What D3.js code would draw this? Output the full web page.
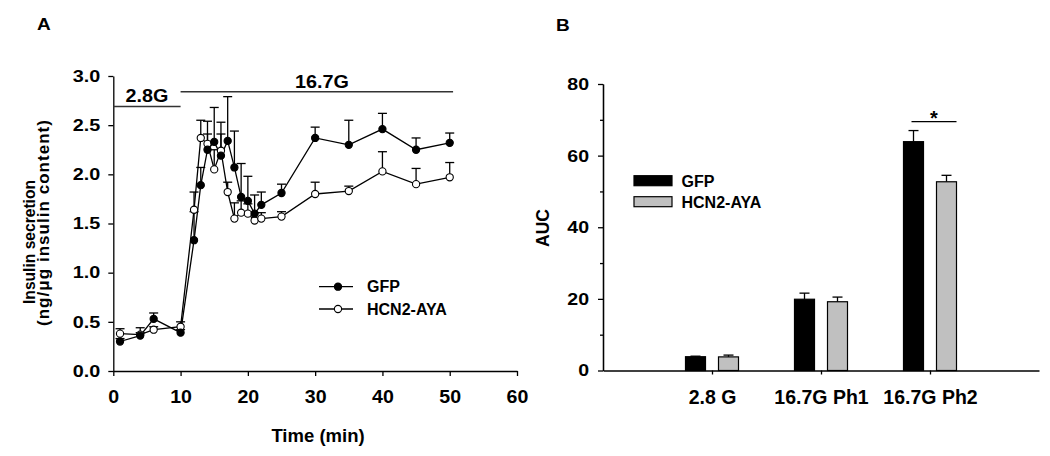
<!DOCTYPE html>
<html><head><meta charset="utf-8">
<script src="https://cdn.jsdelivr.net/npm/d3@7"></script>
<style>
body{margin:0;background:#fff;}
svg{display:block;}
text{font-family:Arial,"Liberation Sans",sans-serif;font-weight:bold;fill:#000;}
</style></head><body>
<svg id="chart" width="1050" height="456"></svg>
<script>
// ---------- Panel A data ----------
const timeMin   = [1, 4, 6, 10, 12, 13, 14, 15, 16, 17, 18, 19, 20, 21, 22, 25, 30, 35, 40, 45, 50];
const gfpMean   = [0.30,0.36,0.53,0.39,1.33,1.89,2.25,2.33,2.19,2.34,2.07,1.77,1.73,1.60,1.69,1.81,2.37,2.30,2.46,2.25,2.32];
const gfpSem    = [0.03,0.03,0.06,0.03,0.29,0.18,0.16,0.35,0.34,0.45,0.37,0.34,0.25,0.19,0.13,0.09,0.11,0.25,0.16,0.12,0.10];
const ayaMean   = [0.38,0.37,0.42,0.45,1.64,2.37,2.31,2.05,2.24,1.82,1.55,1.61,1.60,1.53,1.55,1.57,1.80,1.83,2.03,1.90,1.97];
const ayaSem    = [0.05,0.07,0.03,0.05,0.18,0.18,0.23,0.20,0.17,0.10,0.16,0.12,0.10,0.08,0.06,0.05,0.12,0.05,0.20,0.16,0.15];
const timeTicks = [0,10,20,30,40,50,60];
const insulinTicks = [0,0.5,1.0,1.5,2.0,2.5,3.0];
const phaseLabels = ["2.8G","16.7G"];
const phaseStart  = [0,10];
const phaseEnd    = [10,50.5];
const phaseLevel  = [2.69,2.84];
const phaseTextAt = [5,31];
const seriesNames = ["GFP","HCN2-AYA"];

// ---------- Panel B data ----------
const aucCategories = ["2.8 G","16.7G Ph1","16.7G Ph2"];
const aucGfp    = [3.85,19.9,63.9];
const aucGfpSem = [0.15,1.7,3.1];
const aucAya    = [3.8,19.2,52.7];
const aucAyaSem = [0.5,1.3,1.8];
const aucTicks  = [0,20,40,60,80];
const aucMinor  = [10,30,50,70];
const sigCategory = "16.7G Ph2";
const sigLevel  = 69.5;

const svg = d3.select("#chart");
const INK = "#000";

function styleAxis(a, fs, sx){
  a.selectAll("path,line").attr("stroke",INK).attr("stroke-width",1.3);
  a.selectAll("text").attr("fill",INK).style("font-size",fs+"px")
    .each(function(){
      const t = d3.select(this);
      const x = +(t.attr("x")||0);
      t.attr("x", x/sx).attr("transform",`scale(${sx},1)`);
    });
}
function stretchText(sel, x, y, sx){
  return sel.attr("transform",`translate(${x},${y}) scale(${sx},1)`);
}

// ================= Panel A =================
const xA = d3.scaleLinear().domain([0,60]).range([113.3,517]);
const yA = d3.scaleLinear().domain([0,3]).range([371,76]);
const gA = svg.append("g");

const axYA = gA.append("g").attr("transform",`translate(${xA(0)},0)`)
  .call(d3.axisLeft(yA).tickValues(insulinTicks).tickFormat(d3.format(".1f")).tickSize(5).tickPadding(8).tickSizeOuter(0));
const axXA = gA.append("g").attr("transform",`translate(0,${yA(0)})`)
  .call(d3.axisBottom(xA).tickValues(timeTicks).tickFormat(d3.format("d")).tickSize(5).tickPadding(14.5).tickSizeOuter(0));
styleAxis(axYA, 16.5, 1.2);
styleAxis(axXA, 17.5, 1.12);

// phase bars
phaseLabels.forEach((lab,i)=>{
  gA.append("line").attr("x1",xA(phaseStart[i])).attr("x2",xA(phaseEnd[i]))
    .attr("y1",yA(phaseLevel[i])).attr("y2",yA(phaseLevel[i]))
    .attr("stroke","#333").attr("stroke-width",1.6);
  stretchText(gA.append("text"), xA(phaseTextAt[i]), yA(phaseLevel[i])-4, 1.07)
    .attr("text-anchor","middle").style("font-size","18.5px").text(lab);
});

const seriesA = [
  {name:seriesNames[0], mean:gfpMean, sem:gfpSem, fill:"#000"},
  {name:seriesNames[1], mean:ayaMean, sem:ayaSem, fill:"#fff"}
];
const lineA = d3.line().x(d=>xA(d.t)).y(d=>yA(d.v));
seriesA.forEach(s=>{
  const pts = timeMin.map((t,i)=>({t, v:s.mean[i], e:s.sem[i]}));
  s.pts = pts;
  gA.append("path").datum(pts).attr("d",lineA).attr("fill","none").attr("stroke",INK).attr("stroke-width",1.3);
});
seriesA.forEach(s=>{
  const eg = gA.append("g");
  eg.selectAll("line.v").data(s.pts).join("line")
    .attr("x1",d=>xA(d.t)).attr("x2",d=>xA(d.t)).attr("y1",d=>yA(d.v)).attr("y2",d=>yA(d.v+d.e))
    .attr("stroke",INK).attr("stroke-width",1.3);
  eg.selectAll("line.c").data(s.pts).join("line")
    .attr("x1",d=>xA(d.t)-4.5).attr("x2",d=>xA(d.t)+4.5).attr("y1",d=>yA(d.v+d.e)).attr("y2",d=>yA(d.v+d.e))
    .attr("stroke",INK).attr("stroke-width",1.3);
});
seriesA.slice().reverse().forEach(s=>{
  gA.append("g").selectAll("circle").data(s.pts).join("circle")
    .attr("cx",d=>xA(d.t)).attr("cy",d=>yA(d.v)).attr("r",3.6)
    .attr("fill",s.fill).attr("stroke",INK).attr("stroke-width",1.1);
});

// legend A
seriesA.forEach((s,i)=>{
  const ly = 286.7 + i*22.3;
  gA.append("line").attr("x1",319).attr("x2",353).attr("y1",ly).attr("y2",ly).attr("stroke",INK).attr("stroke-width",1.3);
  gA.append("circle").attr("cx",338).attr("cy",ly).attr("r",3.6).attr("fill",s.fill).attr("stroke",INK).attr("stroke-width",1.1);
  gA.append("text").attr("x",367).attr("y",ly+5.6).style("font-size","16px").text(s.name);
});

// titles A
stretchText(gA.append("text"), 37, 30, 1.12).style("font-size","17px").text("A");
gA.append("text").attr("x",318).attr("y",441.5).attr("text-anchor","middle").style("font-size","18.5px").text("Time (min)");
gA.append("text").attr("transform","translate(34.5,242) rotate(-90)").attr("text-anchor","middle")
  .style("font-size","17px").attr("textLength",124).attr("lengthAdjust","spacingAndGlyphs").text("Insulin secretion");
gA.append("text").attr("transform","translate(49,223) rotate(-90)").attr("text-anchor","middle")
  .style("font-size","17px").attr("textLength",206).attr("lengthAdjust","spacing").text("(ng/\u03BCg insulin content)");

// ================= Panel B =================
const xB = d3.scaleLinear().domain([0,aucCategories.length+1]).range([603,1039]);
const yB = d3.scaleLinear().domain([0,80]).range([370.5,84]);
const inner = d3.scaleBand().domain(seriesNames).range([-26.5,26.5]).paddingInner(13/33).paddingOuter(0);
const gB = svg.append("g");
const catPos = c => xB(aucCategories.indexOf(c)+1);

const axYB = gB.append("g").attr("transform",`translate(${xB(0)},0)`)
  .call(d3.axisLeft(yB).tickValues(aucTicks).tickFormat(d3.format("d")).tickSize(5).tickPadding(9).tickSizeOuter(0));
const axYBm = gB.append("g").attr("transform",`translate(${xB(0)},0)`)
  .call(d3.axisLeft(yB).tickValues(aucMinor).tickFormat("").tickSize(3).tickSizeOuter(0));
const axXB = gB.append("g").attr("transform",`translate(0,${yB(0)})`)
  .call(d3.axisBottom(xB).tickValues(d3.range(1,aucCategories.length+1)).tickFormat(i=>aucCategories[i-1]).tickSize(4).tickPadding(16).tickSizeOuter(0));
styleAxis(axYB, 17, 1.15);
styleAxis(axYBm, 17, 1);
styleAxis(axXB, 19.5, 1.0);

const seriesB = [
  {name:seriesNames[0], vals:aucGfp, sem:aucGfpSem, fill:"#000"},
  {name:seriesNames[1], vals:aucAya, sem:aucAyaSem, fill:"#c0c0c0"}
];
seriesB.forEach(s=>{
  const data = aucCategories.map((c,i)=>({c, v:s.vals[i], e:s.sem[i], x:catPos(c)+inner(s.name)}));
  const g = gB.append("g");
  g.selectAll("line.v").data(data).join("line")
    .attr("x1",d=>d.x+inner.bandwidth()/2).attr("x2",d=>d.x+inner.bandwidth()/2)
    .attr("y1",d=>yB(d.v)).attr("y2",d=>yB(d.v+d.e)).attr("stroke",INK).attr("stroke-width",1.3);
  g.selectAll("line.c").data(data).join("line")
    .attr("x1",d=>d.x+inner.bandwidth()/2-5).attr("x2",d=>d.x+inner.bandwidth()/2+5)
    .attr("y1",d=>yB(d.v+d.e)).attr("y2",d=>yB(d.v+d.e)).attr("stroke",INK).attr("stroke-width",1.3);
  g.selectAll("rect").data(data).join("rect")
    .attr("x",d=>d.x).attr("width",inner.bandwidth())
    .attr("y",d=>yB(d.v)).attr("height",d=>yB(0)-yB(d.v))
    .attr("fill",s.fill).attr("stroke",INK).attr("stroke-width",1.2);
});

// significance
const sx0 = catPos(sigCategory)+inner(seriesNames[0])+inner.bandwidth()/2-2;
const sx1 = catPos(sigCategory)+inner(seriesNames[1])+inner.bandwidth();
gB.append("line").attr("x1",sx0).attr("x2",sx1).attr("y1",yB(sigLevel)).attr("y2",yB(sigLevel)).attr("stroke",INK).attr("stroke-width",1.3);
gB.append("text").attr("x",(sx0+sx1)/2).attr("y",yB(sigLevel)+3).attr("text-anchor","middle").style("font-size","20px").text("*");

// legend B
seriesB.forEach((s,i)=>{
  const ly = 175.7 + i*21;
  gB.append("rect").attr("x",634).attr("y",ly).attr("width",38).attr("height",10)
    .attr("fill",s.fill).attr("stroke",INK).attr("stroke-width",1.2);
  gB.append("text").attr("x",681.5).attr("y",ly+11).style("font-size","16px").text(s.name);
});

stretchText(gB.append("text"), 556, 31, 1.12).style("font-size","17px").text("B");
gB.append("text").attr("transform","translate(549,228) rotate(-90)").attr("text-anchor","middle").style("font-size","17.5px").text("AUC");
</script>
</body></html>
